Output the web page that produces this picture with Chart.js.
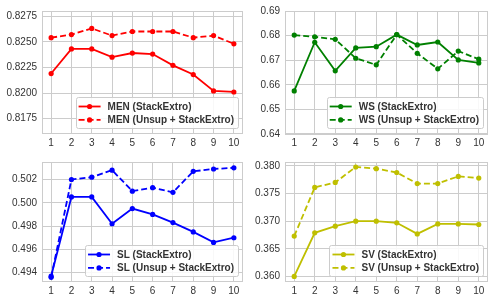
<!DOCTYPE html>
<html>
<head>
<meta charset="utf-8">
<script src="https://cdn.jsdelivr.net/npm/chart.js@4.4.1/dist/chart.umd.min.js"></script>
<style>
  html, body { margin: 0; padding: 0; background: #fff; }
  #wrap { position: relative; width: 495px; height: 303px; overflow: hidden; }
  .cell { position: absolute; }
</style>
</head>
<body>
<div id="wrap">
  <div class="cell" style="left:0;top:0;width:247px;height:151px;"><canvas id="c-men"></canvas></div>
  <div class="cell" style="left:247px;top:0;width:248px;height:151px;"><canvas id="c-ws"></canvas></div>
  <div class="cell" style="left:0;top:151px;width:247px;height:152px;"><canvas id="c-sl"></canvas></div>
  <div class="cell" style="left:247px;top:151px;width:248px;height:152px;"><canvas id="c-sv"></canvas></div>
</div>
<script>
// x positions (number of stacked extractors)
const steps = [1, 2, 3, 4, 5, 6, 7, 8, 9, 10];

const menStack = [0.8219, 0.8243, 0.8243, 0.8235, 0.8239, 0.8238, 0.8227, 0.8218, 0.8202, 0.8201];
const menUnsup = [0.8254, 0.8257, 0.8263, 0.8256, 0.8260, 0.8260, 0.8260, 0.8254, 0.8256, 0.8248];
const wsStack  = [0.6575, 0.6773, 0.6657, 0.6750, 0.6755, 0.6804, 0.6762, 0.6774, 0.6701, 0.6689];
const wsUnsup  = [0.6802, 0.6795, 0.6785, 0.6708, 0.6681, 0.6804, 0.6728, 0.6665, 0.6737, 0.6704];
const slStack  = [0.4937, 0.5005, 0.5005, 0.4982, 0.4995, 0.4990, 0.4983, 0.4975, 0.4966, 0.4970];
const slUnsup  = [0.4936, 0.5020, 0.5022, 0.5028, 0.5010, 0.5013, 0.5009, 0.5027, 0.5029, 0.5030];
const svStack  = [0.3600, 0.3679, 0.3691, 0.3700, 0.3700, 0.3697, 0.3677, 0.3695, 0.3695, 0.3694];
const svUnsup  = [0.3673, 0.3761, 0.3770, 0.3798, 0.3795, 0.3788, 0.3768, 0.3768, 0.3781, 0.3778];

const menTicks = [0.8175, 0.8200, 0.8225, 0.8250, 0.8275];
const wsTicks  = [0.64, 0.65, 0.66, 0.67, 0.68, 0.69];
const slTicks  = [0.494, 0.496, 0.498, 0.500, 0.502];
const svTicks  = [0.360, 0.365, 0.370, 0.375, 0.380];

const GRID = "#cccccc";
const TEXT = "#333333";
const FONT = '"Liberation Sans", Arial, sans-serif';

Chart.defaults.font.family = FONT;
Chart.defaults.font.size = 10;
Chart.defaults.color = TEXT;

// frame around the plot area + matplotlib-like legend in the lower right corner
const boxLegend = {
  id: "boxLegend",
  beforeDatasetsDraw(chart) {
    const a = chart.chartArea, ctx = chart.ctx;
    ctx.save();
    ctx.strokeStyle = GRID;
    ctx.lineWidth = 1;
    ctx.strokeRect(Math.round(a.left) + 0.5, Math.round(a.top) + 0.5,
      Math.round(a.right - a.left) - 1, Math.round(a.bottom - a.top) - 1);
    ctx.restore();
  },
  afterDraw(chart) {
    const a = chart.chartArea, ctx = chart.ctx;
    const sets = chart.data.datasets;
    ctx.save();
    ctx.font = "bold 10px " + FONT;
    const tw = Math.max(...sets.map(d => ctx.measureText(d.label).width));
    const w = 3 + 22 + 7 + tw + 4, h = 31;
    const x = a.right - 5 - w, y = a.bottom - 6 - h;
    ctx.fillStyle = "rgba(255,255,255,0.85)";
    ctx.strokeStyle = GRID;
    ctx.lineWidth = 1;
    ctx.beginPath();
    ctx.roundRect(Math.round(x) + 0.5, Math.round(y) + 0.5, Math.round(w), h, 2);
    ctx.fill();
    ctx.stroke();
    sets.forEach((d, i) => {
      const cy = y + 9.5 + i * 13.4;
      ctx.strokeStyle = d.borderColor;
      ctx.lineWidth = d.borderWidth;
      ctx.setLineDash(d.borderDash || []);
      ctx.beginPath();
      ctx.moveTo(x + 3, cy);
      ctx.lineTo(x + 25, cy);
      ctx.stroke();
      ctx.setLineDash([]);
      ctx.fillStyle = d.borderColor;
      ctx.beginPath();
      ctx.arc(x + 14, cy, 2.6, 0, Math.PI * 2);
      ctx.fill();
      ctx.fillStyle = TEXT;
      ctx.textBaseline = "middle";
      ctx.fillText(d.label, x + 32, cy + 0.5);
    });
    ctx.restore();
  },
};

function makeChart(id, cfg) {
  const series = (vals, label, dashed) => ({
    label,
    data: steps.map((s, i) => ({ x: s, y: vals[i] })),
    borderColor: cfg.color,
    backgroundColor: cfg.color,
    borderWidth: 1.8,
    borderDash: dashed ? [6, 3] : [],
    pointRadius: 2.6,
    pointBorderWidth: 0,
    tension: 0,
  });
  return new Chart(document.getElementById(id), {
    type: "line",
    data: {
      datasets: [
        series(cfg.stack, `${cfg.name} (StackExtro)`, false),
        series(cfg.unsup, `${cfg.name} (Unsup + StackExtro)`, true),
      ],
    },
    options: {
      responsive: true, maintainAspectRatio: false,
      animation: false,
      layout: { padding: { top: cfg.padTop, right: cfg.padRight, left: 0, bottom: 0 } },
      plugins: { legend: { display: false }, tooltip: { enabled: false } },
      scales: {
        x: {
          type: "linear", min: 0.55, max: 10.45,
          afterBuildTicks: s => { s.ticks = steps.map(v => ({ value: v })); },
          afterFit: s => { s.height = cfg.xHeight; },
          grid: { color: GRID, drawTicks: false },
          border: { display: false },
          ticks: { padding: 3, color: TEXT, font: { size: 10 } },
        },
        y: {
          min: cfg.min, max: cfg.max,
          afterBuildTicks: s => { s.ticks = cfg.ticks.map(v => ({ value: v })); },
          afterFit: s => { s.width = cfg.yWidth; },
          grid: { color: GRID, drawTicks: false },
          border: { display: false },
          ticks: { padding: 5, color: TEXT, font: { size: 10 }, callback: v => v.toFixed(cfg.dec) },
        },
      },
    },
    plugins: [boxLegend],
  });
}

makeChart("c-men", { name: "MEN", color: "#ff0000", stack: menStack, unsup: menUnsup,
  ticks: menTicks, min: 0.8160, max: 0.8280, dec: 4, padTop: 11, padRight: 3, yWidth: 42, xHeight: 17 });
makeChart("c-ws", { name: "WS", color: "#008000", stack: wsStack, unsup: wsUnsup,
  ticks: wsTicks, min: 0.64, max: 0.69, dec: 2, padTop: 11, padRight: 7, yWidth: 38, xHeight: 17 });
makeChart("c-sl", { name: "SL", color: "#0000ff", stack: slStack, unsup: slUnsup,
  ticks: slTicks, min: 0.4932, max: 0.5035, dec: 3, padTop: 8, padRight: 3, yWidth: 42, xHeight: 21 });
makeChart("c-sv", { name: "SV", color: "#bfbf00", stack: svStack, unsup: svUnsup,
  ticks: svTicks, min: 0.3590, max: 0.3807, dec: 3, padTop: 8, padRight: 7, yWidth: 38, xHeight: 21 });
</script>
</body>
</html>
